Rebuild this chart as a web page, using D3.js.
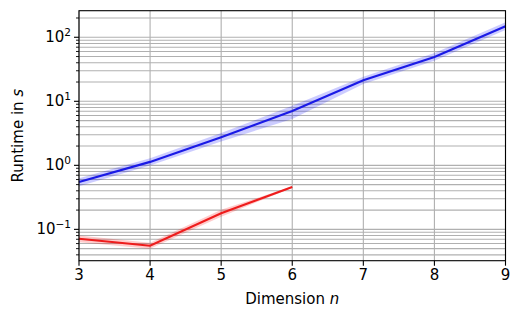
<!DOCTYPE html>
<html><head><meta charset="utf-8">
<script src="https://cdn.jsdelivr.net/npm/d3@7"></script>
<style>body{margin:0;background:#fff}svg{display:block}text{font-family:"DejaVu Sans",sans-serif;fill:#000}</style>
</head><body><svg id="c" width="522" height="318"></svg>
<script>
const dims = [3,4,5,6,7,8,9];
const blueMean = [0.55,1.13,2.74,7.05,21.3,49.2,148.6];
const blueLow  = [0.47,0.99,2.35,5.3,18.6,43,130];
const blueHigh = [0.63,1.29,3.20,8.5,24.2,57,172];
const redDims = [3,4,5,6];
const redMean = [0.0713,0.0555,0.178,0.458];
const redLow  = [0.063,0.050,0.158,0.445];
const redHigh = [0.080,0.062,0.202,0.470];
const xTicks = [3,4,5,6,7,8,9];
const yMajor = [0.1,1,10,100];
const yMajorExp = ["−1","0","1","2"];

const svg = d3.select("#c");
const L=79, R=505.5, T=10.7, B=260.7;
const x = d3.scaleLinear().domain([3,9]).range([L,R]);
const y = d3.scaleLog().domain([0.0324,260]).range([B,T]);

const minors=[];
[0.01,0.1,1,10,100].forEach(d=>{for(let k=2;k<=9;k++){const v=d*k; if(v>=0.0324&&v<=260) minors.push(v);}});

const g = svg.append("g");
g.selectAll(".ymin").data(minors).enter().append("line")
 .attr("x1",L).attr("x2",R).attr("y1",d=>y(d)).attr("y2",d=>y(d))
 .attr("stroke","#b0b0b0").attr("stroke-width",1.1);
g.selectAll(".ymaj").data(yMajor).enter().append("line")
 .attr("x1",L).attr("x2",R).attr("y1",d=>y(d)).attr("y2",d=>y(d))
 .attr("stroke","#b0b0b0").attr("stroke-width",1.1);
g.selectAll(".xg").data(xTicks).enter().append("line")
 .attr("x1",d=>x(d)).attr("x2",d=>x(d)).attr("y1",T).attr("y2",B)
 .attr("stroke","#b0b0b0").attr("stroke-width",1.1);

function band(xs,lo,hi,col){
  const data = xs.map((d,i)=>({x:d,lo:lo[i],hi:hi[i]}));
  g.append("path").datum(data)
   .attr("d",d3.area().x(d=>x(d.x)).y0(d=>y(d.lo)).y1(d=>y(d.hi)))
   .attr("fill",col).attr("fill-opacity",0.2).attr("stroke","none");
}
function line(xs,m,col){
  const data = xs.map((d,i)=>({x:d,v:m[i]}));
  g.append("path").datum(data)
   .attr("d",d3.line().x(d=>x(d.x)).y(d=>y(d.v)))
   .attr("fill","none").attr("stroke",col).attr("stroke-width",2.2);
}
band(dims,blueLow,blueHigh,"#0000ff");
band(redDims,redLow,redHigh,"#ff0000");
line(dims,blueMean,"#1a1ae6");
line(redDims,redMean,"#ee1c1c");

svg.append("rect").attr("x",L).attr("y",T).attr("width",R-L).attr("height",B-T)
 .attr("fill","none").attr("stroke","#000").attr("stroke-width",1.1);

const xa = svg.append("g");
xTicks.forEach(t=>{
  xa.append("line").attr("x1",x(t)).attr("x2",x(t)).attr("y1",B).attr("y2",B+5).attr("stroke","#000").attr("stroke-width",1.1);
  xa.append("text").attr("x",x(t)).attr("y",B+19).attr("text-anchor","middle").attr("font-size",15).text(t);
});
yMajor.forEach((t,i)=>{
  svg.append("line").attr("x1",L-5).attr("x2",L).attr("y1",y(t)).attr("y2",y(t)).attr("stroke","#000").attr("stroke-width",1.1);
  const tx = svg.append("text").attr("x",L-8).attr("y",y(t)+5).attr("text-anchor","end").attr("font-size",15);
  tx.append("tspan").text("10");
  tx.append("tspan").attr("font-size",10.5).attr("dy",-6).text(yMajorExp[i]);
});
minors.forEach(t=>{
  svg.append("line").attr("x1",L-3).attr("x2",L).attr("y1",y(t)).attr("y2",y(t)).attr("stroke","#000").attr("stroke-width",0.9);
});
const xl = svg.append("text").attr("x",(L+R)/2).attr("y",304).attr("text-anchor","middle").attr("font-size",15);
xl.append("tspan").text("Dimension ");
xl.append("tspan").attr("font-style","italic").text("n");
const yl = svg.append("text").attr("transform",`translate(23,${(T+B)/2}) rotate(-90)`).attr("text-anchor","middle").attr("font-size",15);
yl.append("tspan").text("Runtime in ");
yl.append("tspan").attr("font-style","italic").text("s");
</script></body></html>
